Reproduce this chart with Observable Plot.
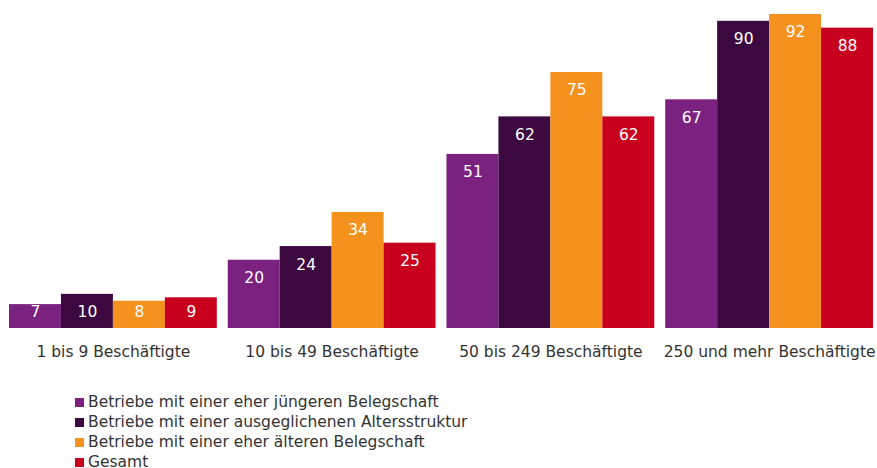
<!DOCTYPE html>
<html><head><meta charset="utf-8">
<script src="https://cdn.jsdelivr.net/npm/d3@7"></script>
<script src="https://cdn.jsdelivr.net/npm/@observablehq/plot@0.6"></script>
<style>
html,body{margin:0;background:#fff;font-family:"DejaVu Sans",Verdana,sans-serif;overflow:hidden;}
#legend{margin-left:75px;margin-top:12px;font-size:15.5px;color:#333;}
#legend div{height:20px;line-height:20px;display:flex;align-items:center;}
#legend span.sw{display:inline-block;width:9px;height:9px;margin-right:4px;}
</style></head>
<body><div id="chart"></div><div id="legend"></div>
<script>
const categories = ["1 bis 9 Beschäftigte", "10 bis 49 Beschäftigte", "50 bis 249 Beschäftigte", "250 und mehr Beschäftigte"];
const seriesNames = ["Betriebe mit einer eher jüngeren Belegschaft", "Betriebe mit einer ausgeglichenen Altersstruktur", "Betriebe mit einer eher älteren Belegschaft", "Gesamt"];
const seriesColors = ["#7b2280", "#3c0840", "#f5921e", "#c8001e"];
const juenger = [7, 20, 51, 67];
const ausgeglichen = [10, 24, 62, 90];
const aelter = [8, 34, 75, 92];
const gesamt = [9, 25, 62, 88];

const seriesValues = [juenger, ausgeglichen, aelter, gesamt];
const data = [];
categories.forEach((c, i) => seriesNames.forEach((s, j) => data.push({cat: c, series: s, value: seriesValues[j][i]})));

const chart = Plot.plot({
  width: 877, height: 380,
  marginLeft: 9, marginRight: 4, marginTop: 14, marginBottom: 52,
  style: {fontFamily: '"DejaVu Sans", Verdana, sans-serif', fontSize: "15.5px", color: "#333"},
  fx: {domain: categories, paddingInner: 0.05, paddingOuter: 0, round: false, label: null},
  x: {domain: seriesNames, padding: 0, round: false, axis: null},
  y: {domain: [0, 92], axis: null},
  color: {domain: seriesNames, range: seriesColors},
  marks: [
    Plot.barY(data, {fx: "cat", x: "series", y: "value", fill: "series"}),
    Plot.text(data, {fx: "cat", x: "series", y: d => Math.max(d.value, 10), dy: 18, text: d => String(d.value), fill: "white", fontSize: 15.5}),
    Plot.axisFx({anchor: "bottom", tickSize: 0, tickPadding: 17, fontSize: 15.5, label: null, fill: "#333"})
  ]
});
document.getElementById("chart").appendChild(chart);

const leg = document.getElementById("legend");
seriesNames.forEach((s, i) => {
  const row = document.createElement("div");
  const sw = document.createElement("span");
  sw.className = "sw"; sw.style.background = seriesColors[i];
  row.appendChild(sw);
  row.appendChild(document.createTextNode(s));
  leg.appendChild(row);
});
</script></body></html>
